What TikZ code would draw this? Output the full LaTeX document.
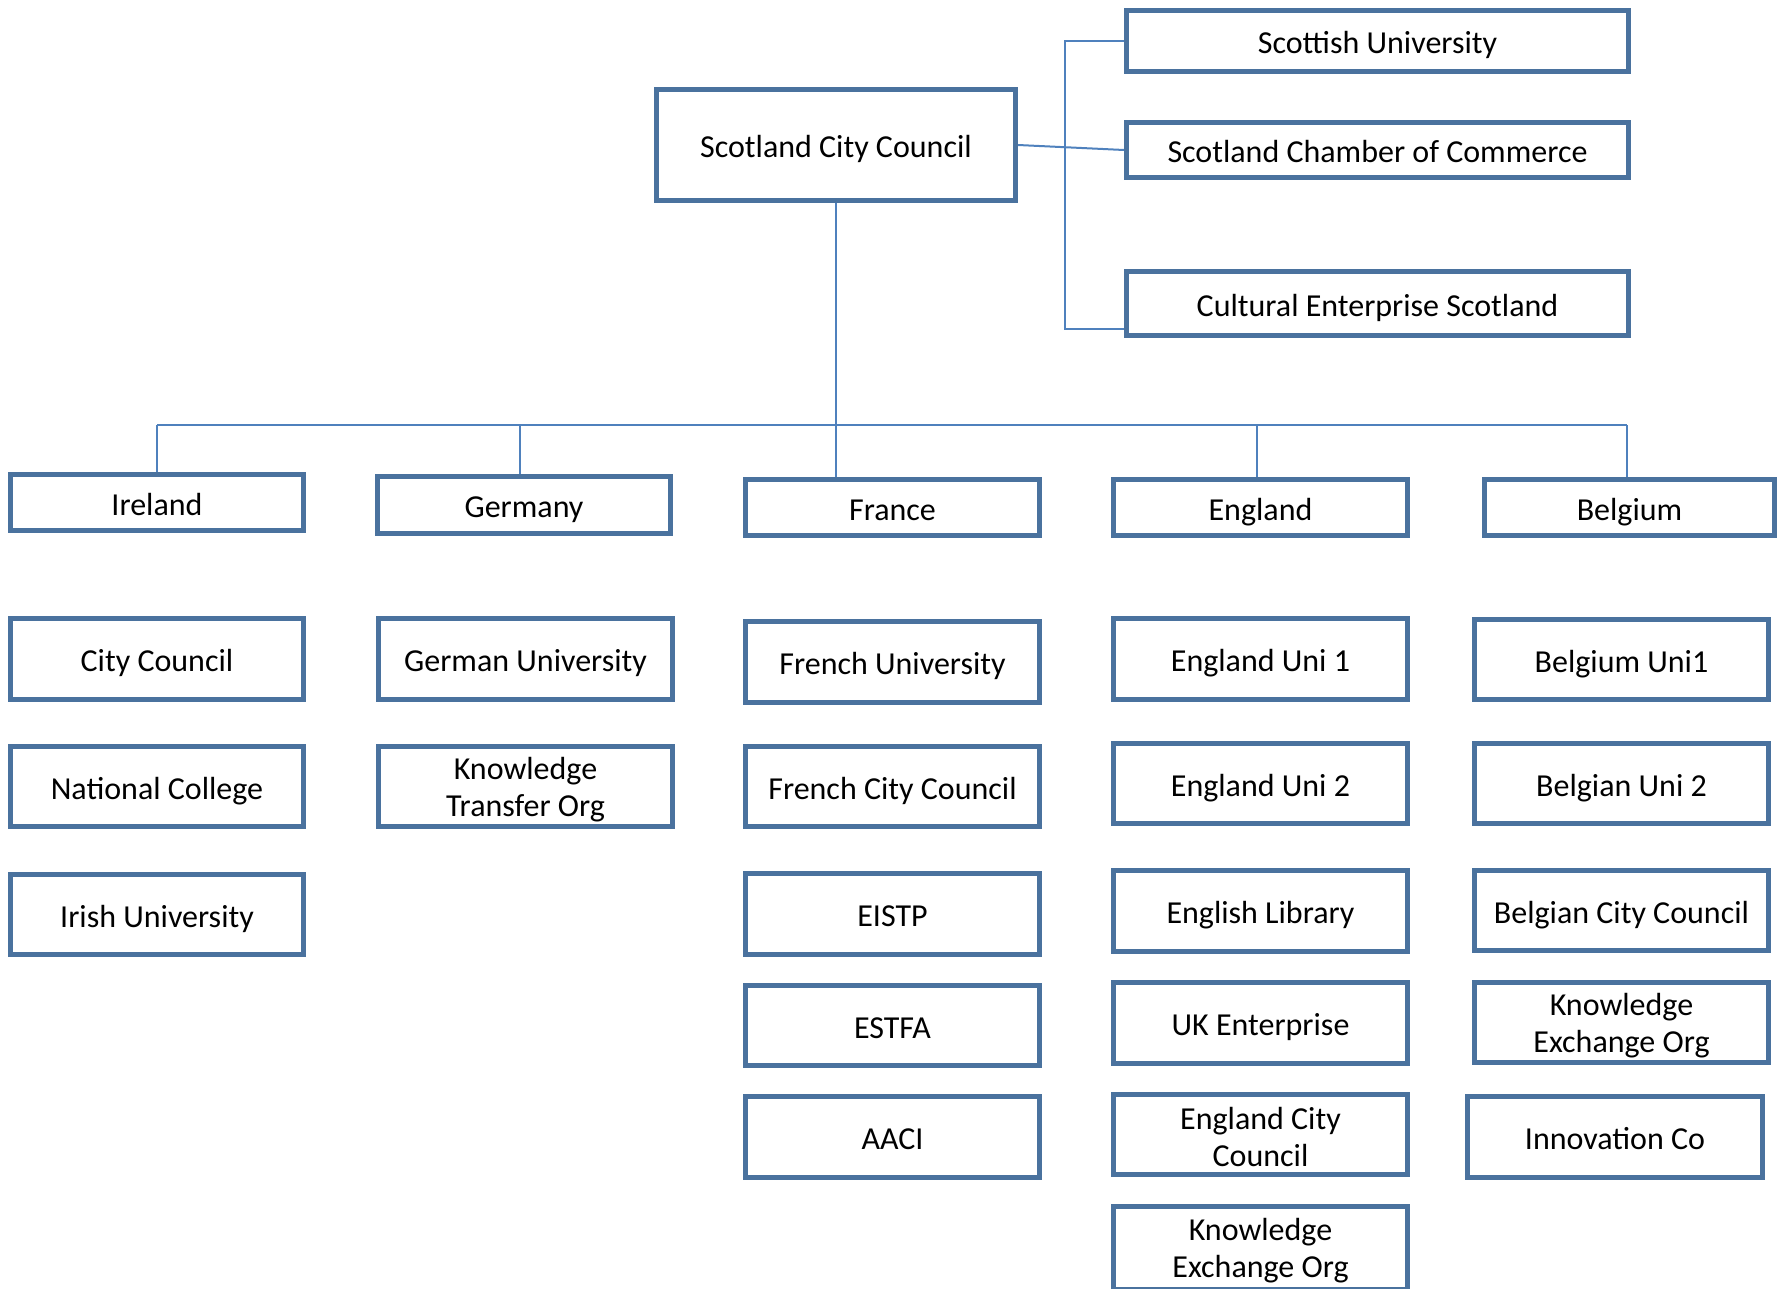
\documentclass[tikz,border=0pt]{standalone}
\usepackage{fontspec}
\setmainfont{Carlito}
\usetikzlibrary{backgrounds}
\definecolor{boxline}{RGB}{74,114,158}
\definecolor{linkline}{RGB}{79,129,189}
\tikzset{
  orgnode/.style={draw=boxline, line width=2.5pt, fill=white, inner sep=0pt,
    font=\fontsize{16}{18.5}\selectfont, align=center, text=black},
  oneline/.style={text height=16.8pt, text depth=4pt},
  link/.style={draw=linkline, line width=1pt},
}
% \orgbox{name}{left}{top}{right}{bottom}{extra style}{text}, outer edges in pixel units
\newcommand\orgbox[7]{%
  \node[orgnode,#6,minimum width={(#4-#2-5)*0.5pt},minimum height={(#5-#3-5)*0.5pt}]
    (#1) at ({(#2+#4)/2},{(#3+#5)/2}) {#7};}
% invisible strut that lowers two-line labels slightly within their boxes
\newcommand\toprule{\rule{0pt}{14pt}}
\begin{document}
\begin{tikzpicture}[x=0.5pt,y=-0.5pt]
\useasboundingbox (0,0) rectangle (1777,1289);

% top level
\orgbox{scc}{654}{87}{1018}{203}{oneline}{Scotland City Council}
\orgbox{su}{1124}{8}{1631}{74}{oneline}{Scottish University}
\orgbox{scoc}{1124}{120}{1631}{180}{oneline}{Scotland Chamber of Commerce}
\orgbox{ces}{1124}{269}{1631}{338}{oneline}{Cultural Enterprise Scotland}

% countries
\orgbox{ire}{8}{472}{306}{533}{oneline}{Ireland}
\orgbox{ger}{375}{474}{673}{536}{oneline}{Germany}
\orgbox{fra}{743}{477}{1042}{538}{oneline}{France}
\orgbox{eng}{1111}{477}{1410}{538}{oneline}{England}
\orgbox{bel}{1482}{477}{1777}{538}{oneline}{Belgium}

% Ireland
\orgbox{ire1}{8}{616}{306}{702}{oneline}{City Council}
\orgbox{ire2}{8}{744}{306}{829}{oneline}{National College}
\orgbox{ire3}{8}{872}{306}{957}{oneline}{Irish University}

% Germany
\orgbox{ger1}{376}{616}{675}{702}{oneline}{German University}
\orgbox{ger2}{376}{744}{675}{829}{}{\toprule Knowledge\\Transfer Org}

% France
\orgbox{fra1}{743}{619}{1042}{705}{oneline}{French University}
\orgbox{fra2}{743}{744}{1042}{829}{oneline}{French City Council}
\orgbox{fra3}{743}{871}{1042}{957}{oneline}{EISTP}
\orgbox{fra4}{743}{983}{1042}{1068}{oneline}{ESTFA}
\orgbox{fra5}{743}{1094}{1042}{1180}{oneline}{AACI}

% England
\orgbox{eng1}{1111}{616}{1410}{702}{oneline}{England Uni 1}
\orgbox{eng2}{1111}{741}{1410}{826}{oneline}{England Uni 2}
\orgbox{eng3}{1111}{868}{1410}{954}{oneline}{English Library}
\orgbox{eng4}{1111}{980}{1410}{1066}{oneline}{UK Enterprise}
\orgbox{eng5}{1111}{1092}{1410}{1177}{}{\toprule England City\\Council}
\orgbox{eng6}{1111}{1204}{1410}{1292}{}{\toprule Knowledge\\Exchange Org}

% Belgium
\orgbox{bel1}{1472}{617}{1771}{702}{oneline}{Belgium Uni1}
\orgbox{bel2}{1472}{741}{1771}{826}{oneline}{Belgian Uni 2}
\orgbox{bel3}{1472}{868}{1771}{953}{oneline}{Belgian City Council}
\orgbox{bel4}{1472}{980}{1771}{1065}{}{\toprule Knowledge\\Exchange Org}
\orgbox{bel5}{1465}{1094}{1765}{1180}{oneline}{Innovation Co}

% connectors
\coordinate (brT) at (1065,41);
\coordinate (brB) at (1065,329);
\coordinate (busL) at (157,425);
\coordinate (busR) at (1627,425);
\coordinate (jGer) at (520,425);
\coordinate (jEng) at (1257,425);
\begin{pgfonlayer}{background}
  \draw[link] (scc.east) -- (scoc.west);
  \draw[link] (su.west |- brT) -- (brT) -- (brB) -- (ces.west |- brB);
  \draw[link] (scc.south) -- (scc.south |- fra.north);
  \draw[link] (busL) -- (busR);
  \draw[link] (busL) -- (busL |- ire.north);
  \draw[link] (jGer) -- (jGer |- ger.north);
  \draw[link] (jEng) -- (jEng |- eng.north);
  \draw[link] (busR) -- (busR |- bel.north);
\end{pgfonlayer}
\end{tikzpicture}
\end{document}
